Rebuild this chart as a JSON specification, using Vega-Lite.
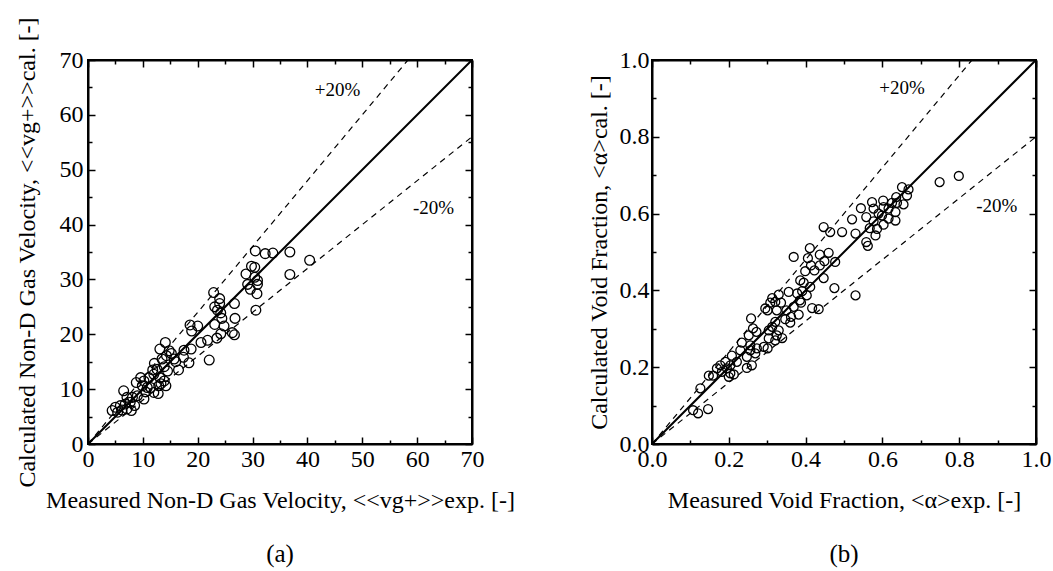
{
  "$schema": "https://vega.github.io/schema/vega-lite/v6.json",
  "padding": {"left": 13, "top": 3, "right": 2, "bottom": 0},
  "config": {
    "font": "Liberation Serif",
    "view": {"stroke": "black", "strokeWidth": 2},
    "axis": {"grid": false, "domainColor": "black", "domainWidth": 2, "tickColor": "black", "tickWidth": 1.5, "labelColor": "black", "titleColor": "black", "labelFont": "Liberation Serif", "titleFont": "Liberation Serif", "labelFontSize": 24, "titleFontSize": 24, "titleFontWeight": "normal", "labelFlush": false, "labelOverlap": false},
    "title": {"font": "Liberation Serif", "fontSize": 25, "fontWeight": "normal", "color": "black"}
  },
  "datasets": {
    "a_pts": [
      {"x":30.5,"y":35.2},{"x":32.3,"y":34.7},{"x":33.7,"y":34.8},{"x":36.8,"y":35.0},{"x":36.8,"y":30.9},{"x":40.4,"y":33.5},{"x":28.8,"y":31.0},{"x":29.8,"y":32.4},{"x":30.4,"y":32.2},{"x":30.4,"y":30.4},{"x":30.9,"y":29.8},{"x":29.1,"y":29.1},{"x":29.6,"y":28.2},{"x":30.9,"y":29.1},{"x":30.8,"y":27.4},{"x":30.6,"y":24.4},
      {"x":22.9,"y":27.6},{"x":24.0,"y":26.5},{"x":24.0,"y":25.6},{"x":23.1,"y":25.0},{"x":23.6,"y":24.4},{"x":24.2,"y":23.9},{"x":26.7,"y":25.6},{"x":26.8,"y":22.9},{"x":24.4,"y":22.9},{"x":23.1,"y":21.8},{"x":24.8,"y":21.5},{"x":23.5,"y":19.3},{"x":24.2,"y":20.1},{"x":26.3,"y":20.3},{"x":26.7,"y":19.9},{"x":18.6,"y":21.7},{"x":20.0,"y":21.5},{"x":18.9,"y":20.6},{"x":20.6,"y":18.5},{"x":21.8,"y":18.9},{"x":22.1,"y":15.3},{"x":18.8,"y":17.3},{"x":17.5,"y":17.1},{"x":18.4,"y":14.8},{"x":17.4,"y":15.8},{"x":16.5,"y":13.5},
      {"x":14.1,"y":18.5},{"x":13.1,"y":17.3},{"x":14.8,"y":17.0},{"x":14.3,"y":16.1},{"x":15.7,"y":15.5},{"x":13.5,"y":15.5},{"x":12.1,"y":14.7},{"x":12.6,"y":13.6},{"x":13.9,"y":14.1},{"x":14.5,"y":13.3},{"x":12.0,"y":12.7},{"x":13.1,"y":12.1},{"x":13.9,"y":11.5},{"x":14.2,"y":10.6},{"x":12.9,"y":10.6},{"x":11.4,"y":10.3},{"x":11.1,"y":12.1},{"x":10.2,"y":11.5},{"x":9.6,"y":12.1},{"x":8.8,"y":11.2},{"x":9.9,"y":10.6},{"x":10.8,"y":10.3},{"x":12.0,"y":9.4},{"x":12.8,"y":9.2},{"x":10.2,"y":8.2},{"x":9.0,"y":8.8},{"x":8.1,"y":8.5},{"x":7.1,"y":8.5},{"x":6.5,"y":9.7},{"x":7.7,"y":7.6},{"x":6.8,"y":7.3},{"x":5.9,"y":7.0},{"x":5.0,"y":6.7},{"x":4.4,"y":6.1},{"x":5.4,"y":5.8},{"x":7.1,"y":6.4},{"x":7.9,"y":6.1},
      {"x":15.2,"y":16.5},{"x":11.8,"y":13.5},{"x":13.3,"y":11.0},{"x":16.0,"y":15.0},{"x":10.5,"y":9.5},{"x":6.2,"y":6.2},{"x":8.5,"y":7.0}
    ],
    "a_lines": [
      {"series":"1:1","x":0,"y":0},{"series":"1:1","x":70,"y":70},
      {"series":"+20%","x":0,"y":0},{"series":"+20%","x":58.33,"y":70},
      {"series":"-20%","x":0,"y":0},{"series":"-20%","x":70,"y":56}
    ],
    "a_text": [{"x":45.5,"y":64.5,"label":"+20%"},{"x":63,"y":43,"label":"-20%"}],
    "b_pts": [
      {"x":0.749,"y":0.682},{"x":0.799,"y":0.698},{"x":0.530,"y":0.387},{"x":0.475,"y":0.406},{"x":0.434,"y":0.351},{"x":0.417,"y":0.354},{"x":0.447,"y":0.565},{"x":0.464,"y":0.552},{"x":0.495,"y":0.552},{"x":0.530,"y":0.548},{"x":0.521,"y":0.585},{"x":0.544,"y":0.614},{"x":0.573,"y":0.630},{"x":0.602,"y":0.634},{"x":0.577,"y":0.613},{"x":0.558,"y":0.591},{"x":0.590,"y":0.600},{"x":0.603,"y":0.617},{"x":0.625,"y":0.628},{"x":0.636,"y":0.643},{"x":0.651,"y":0.669},{"x":0.668,"y":0.663},{"x":0.664,"y":0.647},{"x":0.638,"y":0.628},{"x":0.655,"y":0.624},{"x":0.634,"y":0.604},{"x":0.616,"y":0.613},{"x":0.599,"y":0.595},{"x":0.603,"y":0.571},{"x":0.634,"y":0.582},{"x":0.577,"y":0.580},{"x":0.567,"y":0.562},{"x":0.582,"y":0.543},{"x":0.558,"y":0.526},{"x":0.562,"y":0.516},{"x":0.586,"y":0.560},{"x":0.616,"y":0.587},
      {"x":0.369,"y":0.487},{"x":0.411,"y":0.510},{"x":0.437,"y":0.493},{"x":0.460,"y":0.498},{"x":0.406,"y":0.484},{"x":0.414,"y":0.465},{"x":0.437,"y":0.465},{"x":0.449,"y":0.476},{"x":0.477,"y":0.474},{"x":0.399,"y":0.450},{"x":0.423,"y":0.452},{"x":0.447,"y":0.432},{"x":0.386,"y":0.426},{"x":0.395,"y":0.420},{"x":0.412,"y":0.409},{"x":0.391,"y":0.398},{"x":0.403,"y":0.387},{"x":0.385,"y":0.374},{"x":0.388,"y":0.368},{"x":0.378,"y":0.392},{"x":0.356,"y":0.396},{"x":0.330,"y":0.389},{"x":0.313,"y":0.380},{"x":0.321,"y":0.370},{"x":0.308,"y":0.368},{"x":0.295,"y":0.353},{"x":0.301,"y":0.348},{"x":0.325,"y":0.348},{"x":0.336,"y":0.368},{"x":0.350,"y":0.348},{"x":0.369,"y":0.357},{"x":0.382,"y":0.337},{"x":0.362,"y":0.331},{"x":0.347,"y":0.325},{"x":0.360,"y":0.316},{"x":0.321,"y":0.318},{"x":0.313,"y":0.305},{"x":0.304,"y":0.296},{"x":0.330,"y":0.296},{"x":0.325,"y":0.283},{"x":0.339,"y":0.276},{"x":0.321,"y":0.270},{"x":0.304,"y":0.275},{"x":0.301,"y":0.249},{"x":0.291,"y":0.253},
      {"x":0.258,"y":0.327},{"x":0.263,"y":0.301},{"x":0.272,"y":0.292},{"x":0.252,"y":0.283},{"x":0.234,"y":0.264},{"x":0.256,"y":0.257},{"x":0.273,"y":0.249},{"x":0.256,"y":0.244},{"x":0.230,"y":0.244},{"x":0.247,"y":0.227},{"x":0.260,"y":0.205},{"x":0.247,"y":0.198},{"x":0.269,"y":0.236},{"x":0.208,"y":0.230},{"x":0.221,"y":0.214},{"x":0.204,"y":0.205},{"x":0.191,"y":0.214},{"x":0.178,"y":0.205},{"x":0.195,"y":0.197},{"x":0.204,"y":0.184},{"x":0.213,"y":0.181},{"x":0.200,"y":0.175},{"x":0.182,"y":0.188},{"x":0.169,"y":0.197},{"x":0.159,"y":0.178},{"x":0.148,"y":0.178},{"x":0.126,"y":0.145},{"x":0.107,"y":0.088},{"x":0.120,"y":0.080},{"x":0.146,"y":0.091}
    ],
    "b_lines": [
      {"series":"1:1","x":0,"y":0},{"series":"1:1","x":1,"y":1},
      {"series":"+20%","x":0,"y":0},{"series":"+20%","x":0.8333,"y":1},
      {"series":"-20%","x":0,"y":0},{"series":"-20%","x":1,"y":0.8}
    ],
    "b_text": [{"x":0.651,"y":0.927,"label":"+20%"},{"x":0.898,"y":0.62,"label":"-20%"}]
  },
  "spacing": 58,
  "hconcat": [
    {
      "width": 384, "height": 384,
      "title": {"text": "(a)", "orient": "bottom", "offset": 30},
      "resolve": {"axis": {"x": "independent", "y": "independent"}},
      "layer": [
        {
          "data": {"name": "a_pts"},
          "mark": {"type": "point", "shape": "circle", "filled": false, "size": 95, "stroke": "black", "strokeWidth": 1.3, "opacity": 1},
          "encoding": {
            "x": {"field": "x", "type": "quantitative", "scale": {"domain": [0, 70], "nice": false},
              "axis": {"orient": "bottom", "values": [0,5,10,15,20,25,30,35,40,45,50,55,60,65,70], "labelExpr": "datum.value % 10 === 0 ? datum.label : ''", "tickSize": {"condition": {"test": "datum.value % 10 === 0", "value": -7}, "value": -4}, "labelPadding": 10, "title": "Measured Non-D Gas Velocity,   <<vg+>>exp.   [-]", "titlePadding": 14}},
            "y": {"field": "y", "type": "quantitative", "scale": {"domain": [0, 70], "nice": false},
              "axis": {"orient": "left", "values": [0,5,10,15,20,25,30,35,40,45,50,55,60,65,70], "labelExpr": "datum.value % 10 === 0 ? datum.label : ''", "tickSize": {"condition": {"test": "datum.value % 10 === 0", "value": -7}, "value": -4}, "labelPadding": 12, "title": "Calculated Non-D Gas Velocity,   <<vg+>>cal.   [-]", "titlePadding": 20}}
          }
        },
        {
          "data": {"name": "a_lines"},
          "transform": [{"filter": "datum.series === '1:1'"}],
          "mark": {"type": "line", "color": "black", "strokeWidth": 2},
          "encoding": {
            "x": {"field": "x", "type": "quantitative", "scale": {"domain": [0, 70], "nice": false},
              "axis": {"orient": "top", "values": [0,5,10,15,20,25,30,35,40,45,50,55,60,65,70], "labels": false, "title": null, "tickSize": {"condition": {"test": "datum.value % 10 === 0", "value": -7}, "value": -4}}},
            "y": {"field": "y", "type": "quantitative", "scale": {"domain": [0, 70], "nice": false},
              "axis": {"orient": "right", "values": [0,5,10,15,20,25,30,35,40,45,50,55,60,65,70], "labels": false, "title": null, "tickSize": {"condition": {"test": "datum.value % 10 === 0", "value": -7}, "value": -4}}}
          }
        },
        {
          "data": {"name": "a_lines"},
          "transform": [{"filter": "datum.series !== '1:1'"}],
          "mark": {"type": "line", "color": "black", "strokeWidth": 1.2, "strokeDash": [6, 5]},
          "encoding": {
            "x": {"field": "x", "type": "quantitative", "scale": {"domain": [0, 70], "nice": false}, "axis": null},
            "y": {"field": "y", "type": "quantitative", "scale": {"domain": [0, 70], "nice": false}, "axis": null},
            "detail": {"field": "series"}
          }
        },
        {
          "data": {"name": "a_text"},
          "mark": {"type": "text", "fontSize": 19, "font": "Liberation Serif", "color": "black"},
          "encoding": {
            "x": {"field": "x", "type": "quantitative", "scale": {"domain": [0, 70], "nice": false}, "axis": null},
            "y": {"field": "y", "type": "quantitative", "scale": {"domain": [0, 70], "nice": false}, "axis": null},
            "text": {"field": "label"}
          }
        }
      ]
    },
    {
      "width": 384, "height": 384,
      "title": {"text": "(b)", "orient": "bottom", "offset": 30},
      "resolve": {"axis": {"x": "independent", "y": "independent"}},
      "layer": [
        {
          "data": {"name": "b_pts"},
          "mark": {"type": "point", "shape": "circle", "filled": false, "size": 80, "stroke": "black", "strokeWidth": 1.3, "opacity": 1},
          "encoding": {
            "x": {"field": "x", "type": "quantitative", "scale": {"domain": [0, 1], "nice": false},
              "axis": {"orient": "bottom", "values": [0,0.1,0.2,0.3,0.4,0.5,0.6,0.7,0.8,0.9,1], "format": ".1f", "labelExpr": "round(datum.value*10) % 2 === 0 ? datum.label : ''", "tickSize": {"condition": {"test": "round(datum.value*10) % 2 === 0", "value": -7}, "value": -4}, "labelPadding": 10, "title": "Measured Void Fraction,   <α>exp.   [-]", "titlePadding": 14}},
            "y": {"field": "y", "type": "quantitative", "scale": {"domain": [0, 1], "nice": false},
              "axis": {"orient": "left", "values": [0,0.1,0.2,0.3,0.4,0.5,0.6,0.7,0.8,0.9,1], "format": ".1f", "labelExpr": "round(datum.value*10) % 2 === 0 ? datum.label : ''", "tickSize": {"condition": {"test": "round(datum.value*10) % 2 === 0", "value": -7}, "value": -4}, "labelPadding": 10, "title": "Calculated Void Fraction,   <α>cal.   [-]", "titlePadding": 8}}
          }
        },
        {
          "data": {"name": "b_lines"},
          "transform": [{"filter": "datum.series === '1:1'"}],
          "mark": {"type": "line", "color": "black", "strokeWidth": 2},
          "encoding": {
            "x": {"field": "x", "type": "quantitative", "scale": {"domain": [0, 1], "nice": false},
              "axis": {"orient": "top", "values": [0,0.1,0.2,0.3,0.4,0.5,0.6,0.7,0.8,0.9,1], "labels": false, "title": null, "tickSize": {"condition": {"test": "round(datum.value*10) % 2 === 0", "value": -7}, "value": -4}}},
            "y": {"field": "y", "type": "quantitative", "scale": {"domain": [0, 1], "nice": false},
              "axis": {"orient": "right", "values": [0,0.1,0.2,0.3,0.4,0.5,0.6,0.7,0.8,0.9,1], "labels": false, "title": null, "tickSize": {"condition": {"test": "round(datum.value*10) % 2 === 0", "value": -7}, "value": -4}}}
          }
        },
        {
          "data": {"name": "b_lines"},
          "transform": [{"filter": "datum.series !== '1:1'"}],
          "mark": {"type": "line", "color": "black", "strokeWidth": 1.2, "strokeDash": [6, 5]},
          "encoding": {
            "x": {"field": "x", "type": "quantitative", "scale": {"domain": [0, 1], "nice": false}, "axis": null},
            "y": {"field": "y", "type": "quantitative", "scale": {"domain": [0, 1], "nice": false}, "axis": null},
            "detail": {"field": "series"}
          }
        },
        {
          "data": {"name": "b_text"},
          "mark": {"type": "text", "fontSize": 19, "font": "Liberation Serif", "color": "black"},
          "encoding": {
            "x": {"field": "x", "type": "quantitative", "scale": {"domain": [0, 1], "nice": false}, "axis": null},
            "y": {"field": "y", "type": "quantitative", "scale": {"domain": [0, 1], "nice": false}, "axis": null},
            "text": {"field": "label"}
          }
        }
      ]
    }
  ]
}
